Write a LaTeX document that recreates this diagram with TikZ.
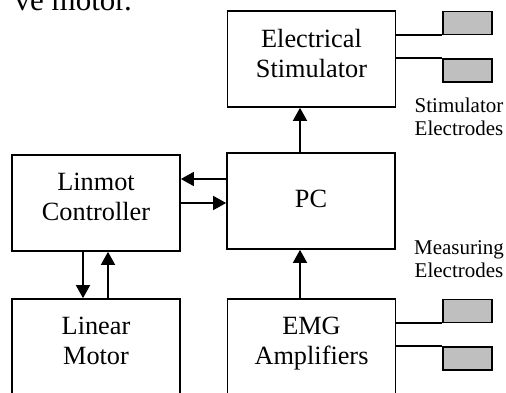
\documentclass[tikz,border=0pt]{standalone}
\usepackage{fontspec}
\setmainfont{Liberation Serif}
\usetikzlibrary{arrows.meta}
\begin{document}
\begin{tikzpicture}[x=1pt,y=1pt,
  blk/.style={draw=black, line width=1.7pt, minimum width=168pt, minimum height=96pt, inner sep=0pt},
  elec/.style={draw=black, line width=1.6pt, fill=gray!50, minimum width=49pt, minimum height=23pt, inner sep=0pt},
  big/.style={font=\fontsize{26.3}{30}\selectfont, inner sep=0pt, anchor=base},
  small/.style={font=\fontsize{21}{23}\selectfont, inner sep=0pt, anchor=base},
  arr/.style={line width=1.6pt, -{Triangle[length=13pt,width=14pt]}},
  wire/.style={line width=1.6pt}]
\useasboundingbox (0,0) rectangle (506,393);
\clip (0,0) rectangle (506,393);
% partial line of page text
\node[font=\fontsize{31}{34}\selectfont, inner sep=0pt, anchor=base east] (pagetxt) at (132,382) {ve motor.};
% blocks
\node[blk] (stim) at (311.5,334) {};
\node[blk] (pc) at (311,192) {};
\node[blk] (linmot) at (96,190) {};
\node[blk] (linear) at (96,46) {};
\node[blk] (emg) at (311.5,46) {};
% block texts
\node[big] (t1) at (311.5,345) {Electrical};
\node[big] (t2) at (311.5,315) {Stimulator};
\node[big] (t3) at (96,202.5) {Linmot};
\node[big] (t4) at (96,172.5) {Controller};
\node[big] (t5) at (311,185) {PC};
\node[big] (t6) at (96,58) {Linear};
\node[big] (t7) at (96,28) {Motor};
\node[big] (t8) at (311.5,58) {EMG};
\node[big] (t9) at (311.5,28) {Amplifiers};
% electrodes
\node[elec] (s1) at (467.5,370) {};
\node[elec] (s2) at (467.5,322.5) {};
\node[elec] (m1) at (467.5,82) {};
\node[elec] (m2) at (467.5,34.5) {};
\draw[wire] (s1.south west -| stim.east) -- (s1.south west);
\draw[wire] (s2.north west -| stim.east) -- (s2.north west);
\draw[wire] (m1.south west -| emg.east) -- (m1.south west);
\draw[wire] (m2.north west -| emg.east) -- (m2.north west);
\node[small] (l1) at (459,280) {Stimulator};
\node[small] (l2) at (459,257.5) {Electrodes};
\node[small] (l3) at (459,138) {Measuring};
\node[small] (l4) at (459,115) {Electrodes};
% arrows
\draw[arr] ([xshift=-11pt]pc.north) -- ([xshift=-11pt]pc.north |- stim.south);
\draw[arr] ([yshift=22pt]pc.west) -- ([yshift=22pt]pc.west -| linmot.east);
\draw[arr] ([yshift=-2pt]pc.west -| linmot.east) -- ([yshift=-2pt]pc.west);
\draw[arr] ([xshift=-13pt]linmot.south) -- ([xshift=-13pt]linmot.south |- linear.north);
\draw[arr] ([xshift=12pt]linear.north) -- ([xshift=12pt]linear.north |- linmot.south);
\draw[arr] ([xshift=-11.5pt]emg.north) -- ([xshift=-11.5pt]emg.north |- pc.south);
\end{tikzpicture}
\end{document}
